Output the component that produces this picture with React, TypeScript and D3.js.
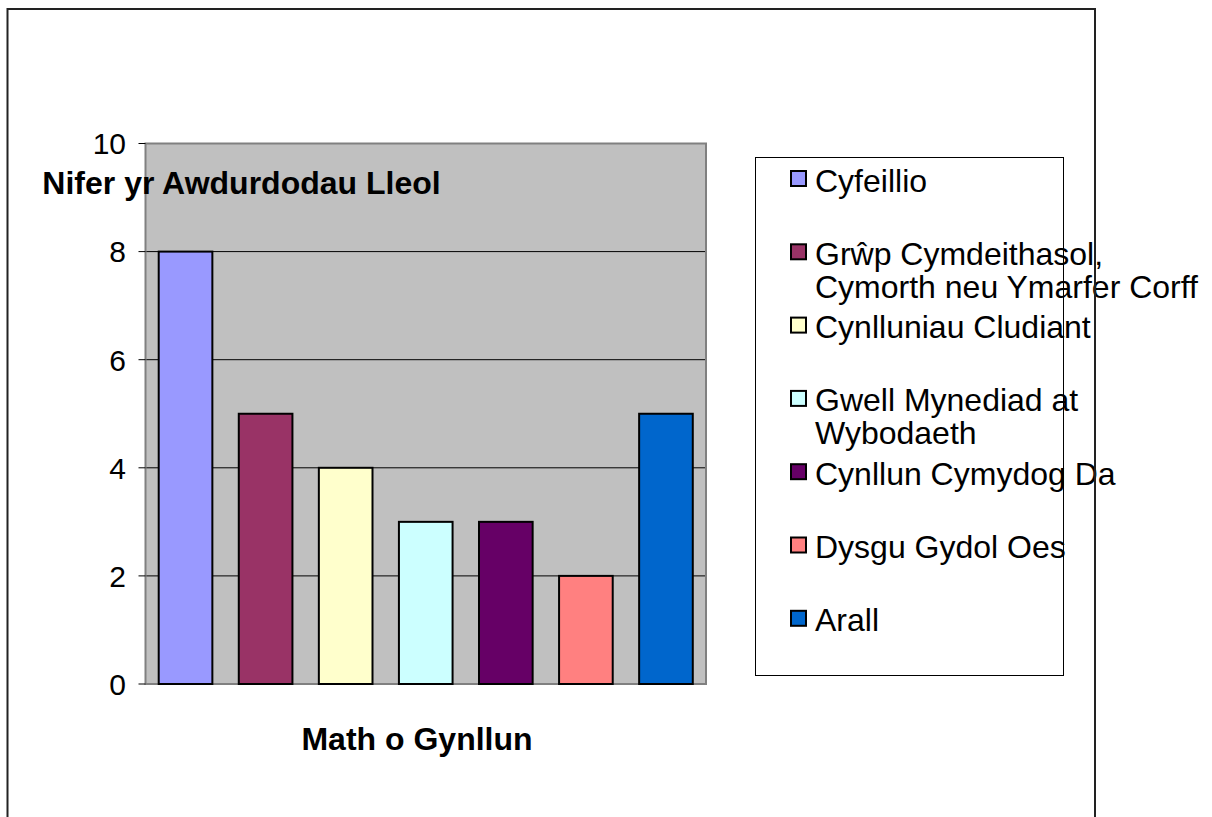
import { scaleBand, scaleLinear } from 'd3';

const categories = [
  'Cyfeillio',
  'Grŵp Cymdeithasol, Cymorth neu Ymarfer Corff',
  'Cynlluniau Cludiant',
  'Gwell Mynediad at Wybodaeth',
  'Cynllun Cymydog Da',
  'Dysgu Gydol Oes',
  'Arall',
];
// legend labels as they wrap in the original
const legendLines = [
  ['Cyfeillio'],
  ['Grŵp Cymdeithasol,', 'Cymorth neu Ymarfer Corff'],
  ['Cynlluniau Cludiant'],
  ['Gwell Mynediad at', 'Wybodaeth'],
  ['Cynllun Cymydog Da'],
  ['Dysgu Gydol Oes'],
  ['Arall'],
];
const values = [8, 5, 4, 3, 3, 2, 5];
const colors = ['#9999ff', '#993366', '#ffffcc', '#ccffff', '#660066', '#ff8080', '#0066cc'];
const yTicks = [0, 2, 4, 6, 8, 10];

const yTitle = 'Nifer yr Awdurdodau Lleol';
const xTitle = 'Math o Gynllun';

const width = 1212;
const height = 817;
const font = '"Liberation Sans", Arial, sans-serif';

export default function App() {
  const plot = { left: 145.5, right: 706, top: 143.5, bottom: 684 };

  const x = scaleBand<string>()
    .domain(categories)
    .range([plot.left, plot.right])
    .paddingInner(0.33)
    .paddingOuter(0.165);
  const y = scaleLinear().domain([0, 10]).range([plot.bottom, plot.top]);

  const legend = { x: 755.5, y: 157.5, w: 308, h: 518 };
  const rowStep = 73.3;
  const firstBaseline = 191.5;

  return (
    <svg
      width={width}
      height={height}
      style={{ position: 'absolute', left: 0, top: 0, background: '#fff' }}
      fontFamily={font}
    >
      {/* plot area */}
      <rect
        x={plot.left}
        y={plot.top}
        width={plot.right - plot.left}
        height={plot.bottom - plot.top}
        fill="#c0c0c0"
      />
      {yTicks
        .filter((t) => t > 0 && t < 10)
        .map((t) => (
          <line key={t} x1={plot.left} x2={plot.right} y1={y(t)} y2={y(t)} stroke="#000" strokeWidth={1} />
        ))}
      <rect
        x={plot.left}
        y={plot.top}
        width={plot.right - plot.left}
        height={plot.bottom - plot.top}
        fill="none"
        stroke="#808080"
        strokeWidth={2}
      />

      {categories.map((c, i) => (
        <rect
          key={c}
          x={x(c)}
          y={y(values[i])}
          width={x.bandwidth()}
          height={y(0) - y(values[i])}
          fill={colors[i]}
          stroke="#000"
          strokeWidth={2}
        />
      ))}

      {/* y axis ticks */}
      {yTicks.map((t) => (
        <g key={t}>
          <line x1={plot.left - 7} x2={plot.left} y1={y(t)} y2={y(t)} stroke="#000" strokeWidth={1} />
          <text x={126} y={y(t)} dy="0.36em" textAnchor="end" fontSize={30} fill="#000">
            {t}
          </text>
        </g>
      ))}

      {/* axis titles */}
      <text x={241.5} y={194} textAnchor="middle" fontSize={32} fontWeight="bold" fill="#000">
        {yTitle}
      </text>
      <text x={417} y={750} textAnchor="middle" fontSize={32} fontWeight="bold" fill="#000">
        {xTitle}
      </text>

      {/* legend */}
      {legendLines.map((lines, i) => {
        const base = firstBaseline + i * rowStep;
        return (
          <g key={i}>
            <rect x={791} y={base - 20.5} width={15} height={15} fill={colors[i]} stroke="#000" strokeWidth={2} />
            {lines.map((l, j) => (
              <text key={j} x={815} y={base + j * 33} fontSize={32} fill="#000">
                {l}
              </text>
            ))}
          </g>
        );
      })}
      <rect
        x={legend.x}
        y={legend.y}
        width={legend.w}
        height={legend.h}
        fill="none"
        stroke="#000"
        strokeWidth={1}
      />

      {/* outer chart border */}
      <rect x={7.5} y={9} width={1087.5} height={850} fill="none" stroke="#222" strokeWidth={2} />
    </svg>
  );
}
